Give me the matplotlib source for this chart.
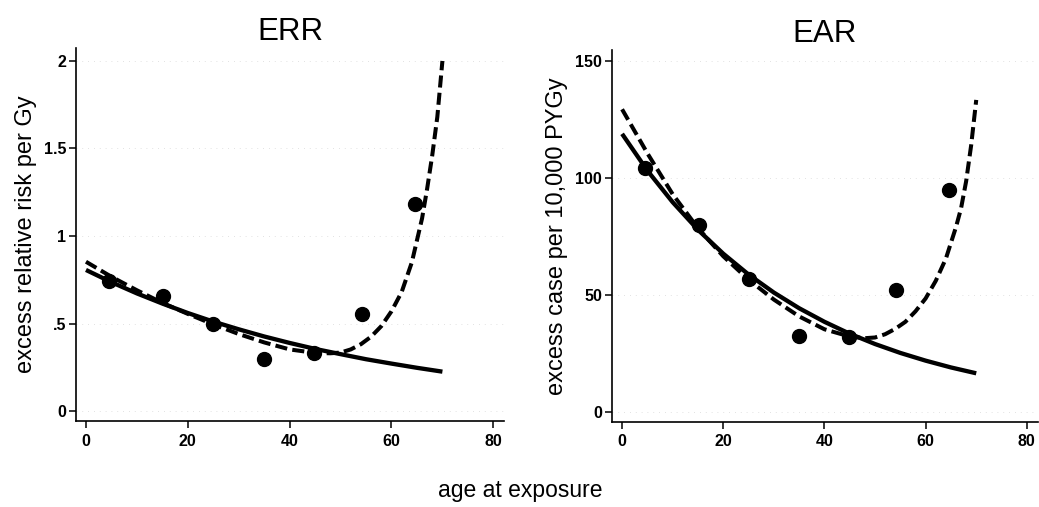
import matplotlib.pyplot as plt

plt.rcParams['font.family'] = ['Liberation Sans', 'DejaVu Sans']

# ---------------- DATA ----------------
# observed points (age at exposure categories)
obs_age = [4.6, 15.2, 25.0, 35.0, 44.8, 54.2, 64.6]
err_obs = [0.743, 0.657, 0.50, 0.30, 0.33, 0.553, 1.183]
ear_obs = [104.4, 79.9, 56.7, 32.5, 31.9, 52.1, 94.9]

# fitted curves
fit_age = [0, 5, 10, 15, 20, 25, 30, 35, 40, 45, 50, 55, 60, 65, 70]
err_solid = [0.806, 0.736, 0.672, 0.614, 0.560, 0.511, 0.467, 0.426,
             0.389, 0.355, 0.325, 0.296, 0.271, 0.247, 0.225]
ear_solid = [118.8, 103.1, 89.6, 77.8, 67.6, 58.7, 51.0, 44.3,
             38.5, 33.4, 29.0, 25.2, 21.9, 19.0, 16.5]

dash_age = [0, 5, 10, 15, 20, 25, 30, 35, 40, 45, 48, 50, 52, 54, 56,
            58, 60, 62, 64, 66, 67, 68, 69, 70]
err_dash = [0.853, 0.767, 0.69, 0.618, 0.555, 0.495, 0.44, 0.392, 0.352,
            0.332, 0.33, 0.334, 0.352, 0.382, 0.425, 0.485, 0.57, 0.68,
            0.85, 1.10, 1.27, 1.46, 1.68, 2.0]
ear_dash = [129.3, 110.5, 93.0, 78.5, 66.5, 56.5, 48.0, 40.8, 35.3,
            32.2, 31.5, 31.8, 33.2, 35.5, 38.5, 43.0, 48.5, 56.0,
            65.5, 79.0, 87.0, 98.5, 114.0, 133.3]

fig = plt.figure(figsize=(10.39, 5.07), dpi=100)


def style_axis(ax):
    for side in ["top", "right"]:
        ax.spines[side].set_visible(False)
    for side in ["left", "bottom"]:
        ax.spines[side].set_linewidth(1.2)
    ax.tick_params(direction="out", length=5, width=1.1, labelsize=11.5)
    ax.tick_params(axis="y", pad=2)
    ax.tick_params(axis="x", pad=4)
    for lbl in ax.get_xticklabels() + ax.get_yticklabels():
        lbl.set_fontweight("bold")
    ax.grid(axis="y", color="#d8d8d8", linewidth=0.6, linestyle=(0, (1, 6)))
    ax.set_axisbelow(True)


# ---------------- 1. ERR ----------------
ax1 = fig.add_axes([0.0731, 0.1696, 0.412, 0.7357])
ax1.plot(fit_age, err_solid, color="black", linewidth=3.1, solid_capstyle="butt")
ax1.plot(dash_age, err_dash, color="black", linewidth=2.9, dashes=(3.0, 1.3))
ax1.plot(obs_age, err_obs, "o", color="black", markersize=10)
ax1.set_xlim(-1.97, 82.1)
ax1.set_ylim(-0.057, 2.074)
ax1.set_xticks([0, 20, 40, 60, 80])
ax1.set_yticks([0, 0.5, 1, 1.5, 2])
ax1.set_yticklabels(["0", ".5", "1", "1.5", "2"])
ax1.set_ylabel("excess relative risk per Gy", fontsize=17, labelpad=5)
ax1.set_title("ERR", fontsize=22.5, pad=6)
style_axis(ax1)

# ---------------- 2. EAR ----------------
ax2 = fig.add_axes([0.589, 0.1677, 0.410, 0.734])
ax2.plot(fit_age, ear_solid, color="black", linewidth=3.1, solid_capstyle="butt")
ax2.plot(dash_age, ear_dash, color="black", linewidth=2.9, dashes=(3.0, 1.3))
ax2.plot(obs_age, ear_obs, "o", color="black", markersize=10)
ax2.set_xlim(-2.0, 82.2)
ax2.set_ylim(-4.3, 154.7)
ax2.set_xticks([0, 20, 40, 60, 80])
ax2.set_yticks([0, 50, 100, 150])
ax2.set_ylabel("excess case per 10,000 PYGy", fontsize=17, labelpad=5)
ax2.set_title("EAR", fontsize=22.5, pad=6)
style_axis(ax2)

fig.text(0.501, 1 - 491 / 507, "age at exposure", fontsize=16.5,
         ha="center", va="center")

plt.savefig("out.png", dpi=100)
